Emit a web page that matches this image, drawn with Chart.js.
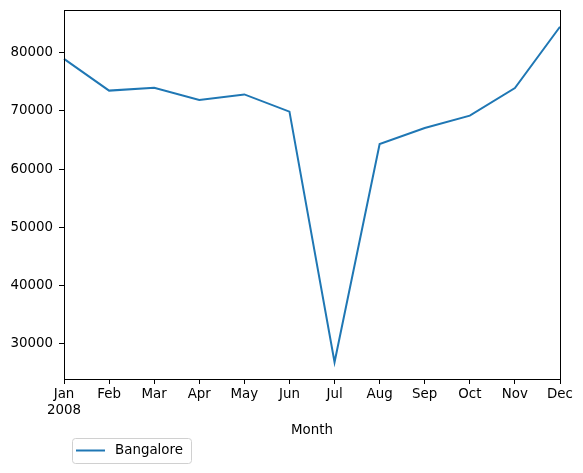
<!DOCTYPE html>
<html>
<head>
<meta charset="utf-8">
<script src="https://cdn.jsdelivr.net/npm/chart.js@4/dist/chart.umd.min.js"></script>
<style>
  html, body { margin: 0; padding: 0; background: #fff; }
  #wrap { width: 583px; height: 473px; }
</style>
</head>
<body>
<div id="wrap"><canvas id="myChart" width="583" height="473"></canvas></div>
<script>
// data
const months = [['Jan', '2008'], 'Feb', 'Mar', 'Apr', 'May', 'Jun', 'Jul', 'Aug', 'Sep', 'Oct', 'Nov', 'Dec'];
const bangalore = [78900, 73450, 73950, 71850, 72800, 69850, 26870, 64300, 67050, 69150, 73900, 84400];
const yTicks = [30000, 40000, 50000, 60000, 70000, 80000];
const seriesName = 'Bangalore';
const lineColor = '#1f77b4';

// matplotlib style 5% margins
const lo = Math.min(...bangalore), hi = Math.max(...bangalore);
const yMin = lo - (hi - lo) * 0.05;
const yMax = hi + (hi - lo) * 0.05;

const font = { family: 'DejaVu Sans', size: 13.4 };

// box around the plot + legend like matplotlib
const framePlugin = {
  id: 'frame',
  afterDraw(chart) {
    const c = chart.ctx, a = chart.chartArea;
    c.save();
    c.strokeStyle = '#000';
    c.lineWidth = 1;
    c.strokeRect(a.left + 0.5, a.top + 0.5, a.right - a.left, a.bottom - a.top);

    // legend
    const ds = chart.data.datasets[0];
    const bx = 72, by = 438, bw = 119, bh = 25;
    c.beginPath();
    c.roundRect(bx + 0.5, by + 0.5, bw, bh, 3);
    c.fillStyle = 'rgba(255,255,255,0.8)';
    c.fill();
    c.strokeStyle = '#d0d0d0';
    c.stroke();
    c.beginPath();
    c.moveTo(76, by + 12.5);
    c.lineTo(105, by + 12.5);
    c.strokeStyle = ds.borderColor;
    c.lineWidth = 2;
    c.stroke();
    c.fillStyle = '#000';
    c.font = '13.4px "DejaVu Sans"';
    c.textBaseline = 'middle';
    c.fillText(ds.label, 115, by + 13);
    c.restore();
  }
};

const ctx = document.getElementById('myChart').getContext('2d');
const myChart = new Chart(ctx, {
  type: 'line',
  data: {
    labels: months,
    datasets: [{
      label: seriesName,
      data: bangalore,
      borderColor: lineColor,
      borderWidth: 2,
      pointRadius: 0,
      tension: 0,
      fill: false
    }]
  },
  options: {
    responsive: false,
    devicePixelRatio: 1,
    animation: false,
    layout: { padding: { left: 0, top: 10, right: 23, bottom: 0 } },
    plugins: {
      legend: { display: false },
      tooltip: { enabled: false }
    },
    scales: {
      x: {
        type: 'category',
        offset: false,
        grid: { drawOnChartArea: false, drawTicks: true, tickLength: 5, color: '#000' },
        border: { display: true, color: '#000' },
        ticks: { font: font, color: '#000', padding: 2, maxRotation: 0, autoSkip: false },
        title: { display: true, text: 'Month', font: font, color: '#000', padding: { top: 0, bottom: 34 } },
        afterFit(scale) { scale.height = 94; }
      },
      y: {
        min: yMin,
        max: yMax,
        grid: { drawOnChartArea: false, drawTicks: true, tickLength: 5, color: '#000' },
        border: { display: true, color: '#000' },
        ticks: { font: font, color: '#000', padding: 6, callback: v => String(v) },
        afterBuildTicks(scale) { scale.ticks = yTicks.map(v => ({ value: v })); },
        afterFit(scale) {
          scale.width = 64;
          scale.paddingTop = 0;
          scale.paddingBottom = 0;
        }
      }
    }
  },
  plugins: [framePlugin]
});
</script>
</body>
</html>
